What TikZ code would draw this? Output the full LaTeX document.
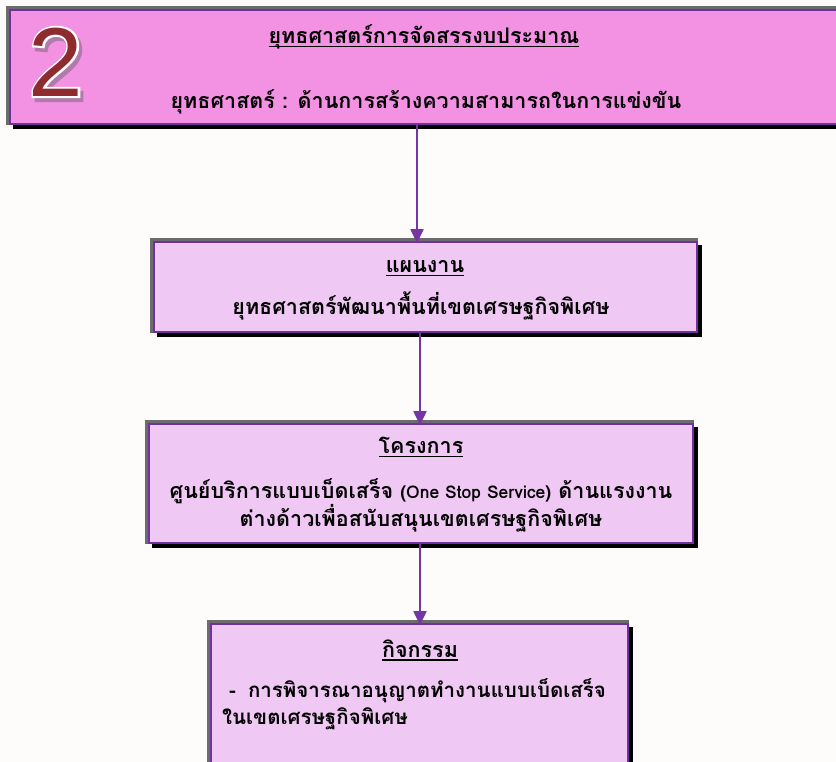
\documentclass[tikz,border=0pt]{standalone}
\usepackage{fontspec}
\newfontfamily\thaifont[Script=Thai]{Loma}
\newfontfamily\numfont{Liberation Sans}
\newfontfamily\numfontbold[FakeBold=4]{Liberation Sans}
\usetikzlibrary{backgrounds,arrows.meta}
\definecolor{bgc}{HTML}{FDFCFB}
\definecolor{topfill}{HTML}{F391E3}
\definecolor{boxfill}{HTML}{F0C8F4}
\definecolor{brd}{HTML}{7030A0}
\definecolor{arrc}{HTML}{7535A5}
\definecolor{numred}{HTML}{8E2B2E}
\definecolor{numshadow}{HTML}{B27AAA}
\newcommand\ulth[1]{\setbox0\hbox{#1}\rlap{\rule[-3.5pt]{\wd0}{1.2pt}}\box0}
\newcommand\lat[1]{{\fontsize{17.5}{28}\selectfont #1}}
\newcommand\bigtwo{%
  \fontsize{98}{98}\selectfont
  \rlap{\hspace*{3pt}\raisebox{-4pt}{\numfontbold\textcolor{numshadow}{2}}}%
  \rlap{\numfontbold\textcolor{white}{2}}%
  {\numfont\textcolor{numred}{2}}}
\tikzset{
  boxbase/.style={draw=brd, line width=1.6pt, inner sep=0pt, rectangle},
  topbox/.style={boxbase, fill=topfill},
  lowbox/.style={boxbase, fill=boxfill},
  txt/.style={font=\thaifont\bfseries\fontsize{21.5}{28}\selectfont, text=black, inner sep=0pt},
  arr/.style={draw=arrc, line width=1.8pt, -{Triangle[length=14pt,width=13pt]}}
}
\begin{document}
\begin{tikzpicture}[x=1pt,y=-1pt]
\useasboundingbox (0,0) rectangle (836,762);
\clip (0,0) rectangle (836,762);

% boxes
\node[topbox, minimum width=890pt, minimum height=114pt] (top) at (455,67) {};
\node[lowbox, minimum width=543pt, minimum height=90pt] (plan) at (425.5,287) {};
\node[lowbox, minimum width=544pt, minimum height=119pt] (proj) at (421,483.5) {};
\node[lowbox, minimum width=417pt, minimum height=176pt] (act) at (419.5,712) {};

\begin{scope}[on background layer]
  \fill[bgc] (0,0) rectangle (836,762);
  \foreach \b in {top,plan,proj,act}{
    \fill[gray!85!black] ([shift={(-3,-3)}]\b.north west) rectangle (\b.south east);
    \fill[black] ([shift={(4,4)}]\b.north west) rectangle ([shift={(4,4)}]\b.south east);
  }
\end{scope}

% connectors
\coordinate (c1) at (417,0);
\coordinate (c2) at (420,0);
\draw[arr] (top.south -| c1) -- ([yshift=-2pt]plan.north -| c1);
\draw[arr] (plan.south -| c2) -- ([yshift=-2pt]proj.north -| c2);
\draw[arr] (proj.south -| c2) -- ([yshift=-2pt]act.north -| c2);

% the number 2
\node[inner sep=0pt] (two) at (56,64) {\bigtwo};

% texts
\node[txt] (t1) at (424,37) {\ulth{ยุทธศาสตร์การจัดสรรงบประมาณ}};
\node[txt] (t2) at (426,102) {ยุทธศาสตร์ : ด้านการสร้างความสามารถในการแข่งขัน};

\node[txt] (p1) at (425,268) {\ulth{แผนงาน}};
\node[txt] (p2) at (421,306) {ยุทธศาสตร์พัฒนาพื้นที่เขตเศรษฐกิจพิเศษ};

\node[txt] (q1) at (421,447) {\ulth{โครงการ}};
\node[txt, align=center] (q2) at (421,505) {ศูนย์บริการแบบเบ็ดเสร็จ \lat{(One Stop Service)} ด้านแรงงาน\\ต่างด้าวเพื่อสนับสนุนเขตเศรษฐกิจพิเศษ};

\node[txt] (a1) at (420,650) {\ulth{กิจกรรม}};
\node[txt, font=\thaifont\bfseries\fontsize{20.5}{27}\selectfont, align=left, anchor=west] (a2) at (222,704) {\hspace*{7pt}-\hspace{12pt}การพิจารณาอนุญาตทำงานแบบเบ็ดเสร็จ\\ในเขตเศรษฐกิจพิเศษ};
\end{tikzpicture}
\end{document}
